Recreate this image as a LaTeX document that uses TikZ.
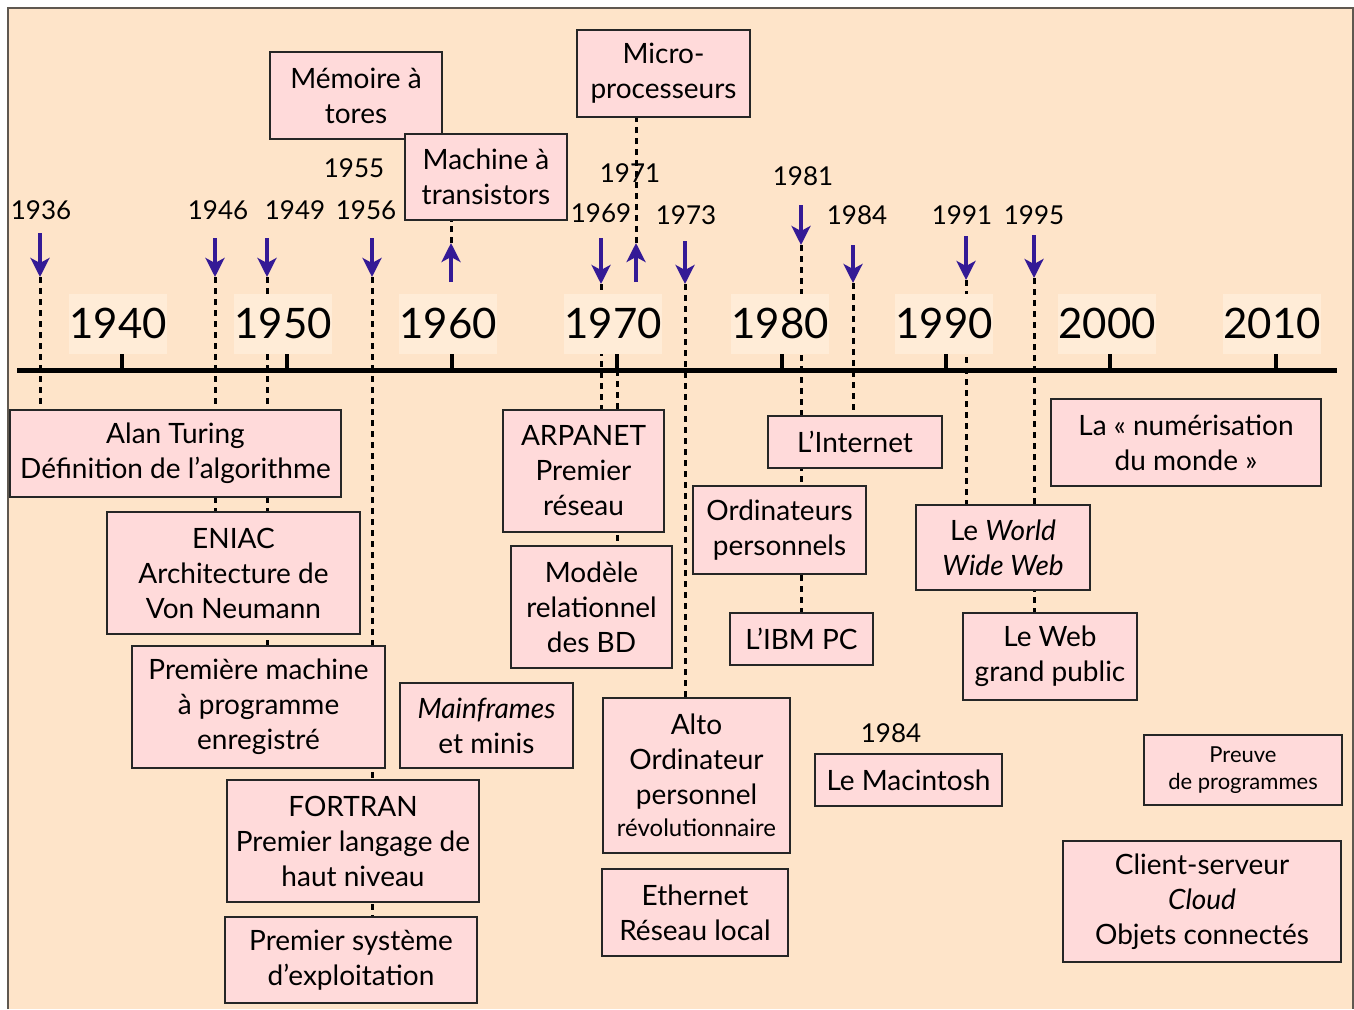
\documentclass[tikz,border=0pt]{standalone}
\usepackage{fontspec}
\setmainfont{Lato}
\usetikzlibrary{arrows.meta}
\definecolor{bgpeach}{RGB}{254,228,201}
\definecolor{boxpink}{RGB}{255,218,218}
\definecolor{decfill}{RGB}{255,236,215}
\definecolor{arrowblue}{RGB}{52,26,150}
\definecolor{framegray}{RGB}{95,88,80}
\pgfdeclarelayer{bglayer}
\pgfdeclarelayer{linelayer}
\pgfsetlayers{bglayer,linelayer,main}
\begin{document}
\begin{tikzpicture}[x=1pt,y=-1pt,
  box/.style={draw=black!85, line width=1.4pt, fill=boxpink, align=center, inner sep=0pt,
    font=\fontsize{28}{35}\selectfont},
  yearlbl/.style={inner sep=0pt, font=\fontsize{26}{30}\selectfont},
  declbl/.style={fill=decfill, inner sep=0pt, minimum width=96, minimum height=60,
    font=\fontsize{42}{50}\selectfont},
  evarrow/.style={draw=arrowblue, line width=4.5pt,
    -{Stealth[length=19pt,width=19pt,inset=5pt]}},
  dotl/.style={draw=black, line width=3pt, dash pattern=on 6pt off 5pt},
  tickline/.style={draw=black, line width=4pt}]
\useasboundingbox (0,0) rectangle (1354,1009);
\begin{pgfonlayer}{bglayer}
  \fill[white] (0,0) rectangle (1354,1009);
  \fill[bgpeach] (8,8) rectangle (1353,1009);
  \draw[framegray, line width=1.5pt] (8,1009) -- (8,8) -- (1353,8) -- (1353,1009);
\end{pgfonlayer}

% axis
\draw[line width=5pt] (17,370) -- (1337,370);
\foreach \x in {122,287,452,617,782,946,1110,1276}
  \draw[tickline] (\x,344) -- (\x,370);

% decade labels
\node[declbl] (d1940) at (118,323.5) {1940};
\node[declbl] (d1950) at (283,323.5) {1950};
\node[declbl] (d1960) at (448,323.5) {1960};
\node[declbl] (d1970) at (613,323.5) {1970};
\node[declbl] (d1980) at (780,323.5) {1980};
\node[declbl] (d1990) at (944,323.5) {1990};
\node[declbl] (d2000) at (1107,323.5) {2000};
\node[declbl] (d2010) at (1272,323.5) {2010};

% event year labels
\node[yearlbl] (y1936) at (41,210) {1936};
\node[yearlbl] (y1946) at (218,210) {1946};
\node[yearlbl] (y1949) at (295,210) {1949};
\node[yearlbl] (y1956) at (366,210) {1956};
\node[yearlbl] (y1955) at (354,168) {1955};
\node[yearlbl] (y1969) at (601,213) {1969};
\node[yearlbl] (y1971) at (630,173) {1971};
\node[yearlbl] (y1973) at (686,215) {1973};
\node[yearlbl] (y1981) at (803,176) {1981};
\node[yearlbl] (y1984) at (857,215) {1984};
\node[yearlbl] (y1991) at (962,215) {1991};
\node[yearlbl] (y1995) at (1034,215) {1995};
\node[yearlbl] (y1984b) at (891,733) {1984};

% arrows
\coordinate (t36) at (40,233);  \coordinate (h36) at (40,277);
\coordinate (t46) at (215,238); \coordinate (h46) at (215,277);
\coordinate (t49) at (267,238); \coordinate (h49) at (267,277);
\coordinate (t56) at (372,238); \coordinate (h56) at (372,277);
\coordinate (t60) at (451,282); \coordinate (h60) at (451,243);
\coordinate (t69) at (601,238); \coordinate (h69) at (601,284);
\coordinate (t71) at (636,282); \coordinate (h71) at (636,243);
\coordinate (t73) at (685,241); \coordinate (h73) at (685,284);
\coordinate (t81) at (801,205); \coordinate (h81) at (801,245);
\coordinate (t84) at (853,245); \coordinate (h84) at (853,283);
\coordinate (t91) at (966,236); \coordinate (h91) at (966,280);
\coordinate (t95) at (1034,235); \coordinate (h95) at (1034,278);
\coordinate (ax70) at (617,370);
\foreach \n in {36,46,49,56,60,69,71,73,81,84,91,95}
  \draw[evarrow] (t\n) -- (h\n);

% boxes
\node[box, minimum width=172, minimum height=87] (tores) at (356,95.5) {Mémoire à\\tores};
\node[box, minimum width=162, minimum height=86] (transistors) at (486,177) {Machine à\\transistors};
\node[box, minimum width=173, minimum height=87] (micro) at (663.5,73.5) {Micro-\\processeurs};
\node[box, minimum width=331, minimum height=87] (turing) at (175.5,453.5) {Alan Turing\\Définition de l’algorithme};
\node[box, minimum width=253, minimum height=122] (eniac) at (233.5,573) {ENIAC\\Architecture de\\Von Neumann};
\node[box, minimum width=253, minimum height=122] (premiere) at (258.5,707) {Première machine\\à programme\\enregistré};
\node[box, minimum width=252, minimum height=122] (fortran) at (353,841) {FORTRAN\\Premier langage de\\haut niveau};
\node[box, minimum width=252, minimum height=86] (os) at (351,960) {Premier système\\d’exploitation};
\node[box, minimum width=173, minimum height=85] (mainframes) at (486.5,725.5) {\textit{Mainframes}\\et minis};
\node[box, minimum width=161, minimum height=122] (arpanet) at (583.5,471) {ARPANET\\Premier\\réseau};
\node[box, minimum width=161, minimum height=122] (modele) at (591.5,607) {Modèle\\relationnel\\des BD};
\node[box, minimum width=187, minimum height=155] (alto) at (696.5,775.5) {Alto\\Ordinateur\\personnel\\[-3pt]{\fontsize{24}{28}\selectfont révolutionnaire}};
\node[box, minimum width=186, minimum height=87] (ethernet) at (695,912.5) {Ethernet\\Réseau local};
\node[box, minimum width=174, minimum height=52] (internet) at (855,442) {L’Internet};
\node[box, minimum width=173, minimum height=88] (ordis) at (779.5,530) {Ordinateurs\\personnels};
\node[box, minimum width=143, minimum height=52] (ibmpc) at (801.5,639) {L’IBM PC};
\node[box, minimum width=187, minimum height=52] (mac) at (908.5,780) {Le Macintosh};
\node[box, minimum width=270, minimum height=87] (numerisation) at (1186,442.5) {La « numérisation\\du monde »};
\node[box, minimum width=174, minimum height=85] (www) at (1003,547.5) {Le \textit{World}\\\textit{Wide Web}};
\node[box, minimum width=174, minimum height=87] (webgp) at (1050,656.5) {Le Web\\grand public};
\node[box, minimum width=198, minimum height=70, font=\fontsize{22}{27}\selectfont] (preuve) at (1243,770) {Preuve\\de programmes};
\node[box, minimum width=278, minimum height=121] (client) at (1202,901.5) {Client-serveur\\\textit{Cloud}\\Objets connectés};

% dotted connectors
\begin{pgfonlayer}{linelayer}
  \draw[dotl] (h36) -- (h36 |- turing.north);
  \draw[dotl] (h46) -- (h46 |- eniac.north);
  \draw[dotl] (h49) -- (h49 |- premiere.north);
  \draw[dotl] (h56) -- (h56 |- os.north);
  \draw[dotl] (h60) -- (h60 |- transistors.south);
  \draw[dotl] (h69) -- (h69 |- arpanet.north);
  \draw[dotl] (ax70) -- (ax70 |- modele.north);
  \draw[dotl] (h71) -- (h71 |- micro.south);
  \draw[dotl] (h73) -- (h73 |- alto.north);
  \draw[dotl] (h81) -- (h81 |- ibmpc.north);
  \draw[dotl] (h84) -- (h84 |- internet.north);
  \draw[dotl] (h91) -- (h91 |- www.north);
  \draw[dotl] (h95) -- (h95 |- webgp.north);
\end{pgfonlayer}
\end{tikzpicture}
\end{document}
